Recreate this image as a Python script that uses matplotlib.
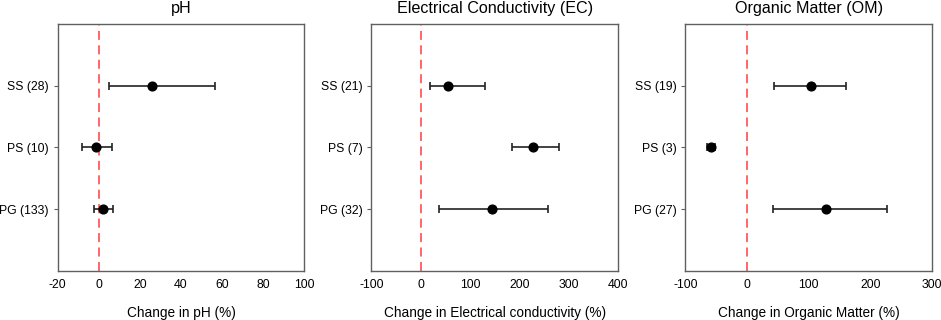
import numpy as np
import matplotlib
matplotlib.use("Agg")
from matplotlib import pyplot as plt

plt.rcParams['font.family'] = ['Liberation Sans', 'DejaVu Sans']
plt.rcParams['axes.unicode_minus'] = False

# rows, bottom to top
rows = ["PG", "PS", "SS"]

ph_labels = ["PG (133)", "PS (10)", "SS (28)"]
ph_mean = [2.1, -1.3, 25.8]
ph_low = [-2.3, -8.0, 4.9]
ph_high = [6.8, 6.5, 56.5]

ec_labels = ["PG (32)", "PS (7)", "SS (21)"]
ec_mean = [144.7, 227.8, 56.0]
ec_low = [37.2, 184.6, 19.0]
ec_high = [258.2, 281.0, 130.5]

om_labels = ["PG (27)", "PS (3)", "SS (19)"]
om_mean = [128.6, -58.8, 103.8]
om_low = [42.2, -64.3, 43.8]
om_high = [227.0, -52.3, 160.6]

titles = ["pH", "Electrical Conductivity (EC)", "Organic Matter (OM)"]
xlabels = ["Change in pH (%)", "Change in Electrical conductivity (%)",
           "Change in Organic Matter (%)"]
xlims = [(-20, 100), (-100, 400), (-100, 300)]
xticks = [np.arange(-20, 101, 20), np.arange(-100, 401, 100), np.arange(-100, 301, 100)]

panels = [
    (ph_labels, ph_mean, ph_low, ph_high),
    (ec_labels, ec_mean, ec_low, ec_high),
    (om_labels, om_mean, om_low, om_high),
]

fig = plt.figure(figsize=(9.41, 3.2), dpi=100)
lefts = [0.0613, 0.3946, 0.7283]
spine_col = "#606060"

for i, (labels, mean, low, high) in enumerate(panels):
    ax = fig.add_axes([lefts[i], 0.154, 0.2620, 0.771])
    y = np.arange(1, len(labels) + 1)
    mean = np.array(mean)
    err = [mean - np.array(low), np.array(high) - mean]
    ax.axvline(0, color="#ff5a5a", ls=(0, (5, 3)), lw=1.3, zorder=1)
    ax.errorbar(mean, y, xerr=err, fmt="o", color="black", ecolor="#222222",
                elinewidth=1.2, capsize=3.2, capthick=1.2, markersize=6.3, zorder=3)
    ax.set_ylim(0, 4)
    ax.set_xlim(*xlims[i])
    ax.set_xticks(xticks[i])
    ax.set_yticks(y)
    ax.set_yticklabels(labels)
    ax.tick_params(axis="x", length=0, labelsize=8.8, pad=6)
    ax.tick_params(axis="y", length=3, direction="out", labelsize=8.8, color=spine_col)
    for s in ax.spines.values():
        s.set_color(spine_col)
        s.set_linewidth(1.0)
    ax.set_title(titles[i], fontsize=11.6, pad=8)
    ax.set_xlabel(xlabels[i], fontsize=9.8, labelpad=11)

fig.savefig("out.png", dpi=100)
